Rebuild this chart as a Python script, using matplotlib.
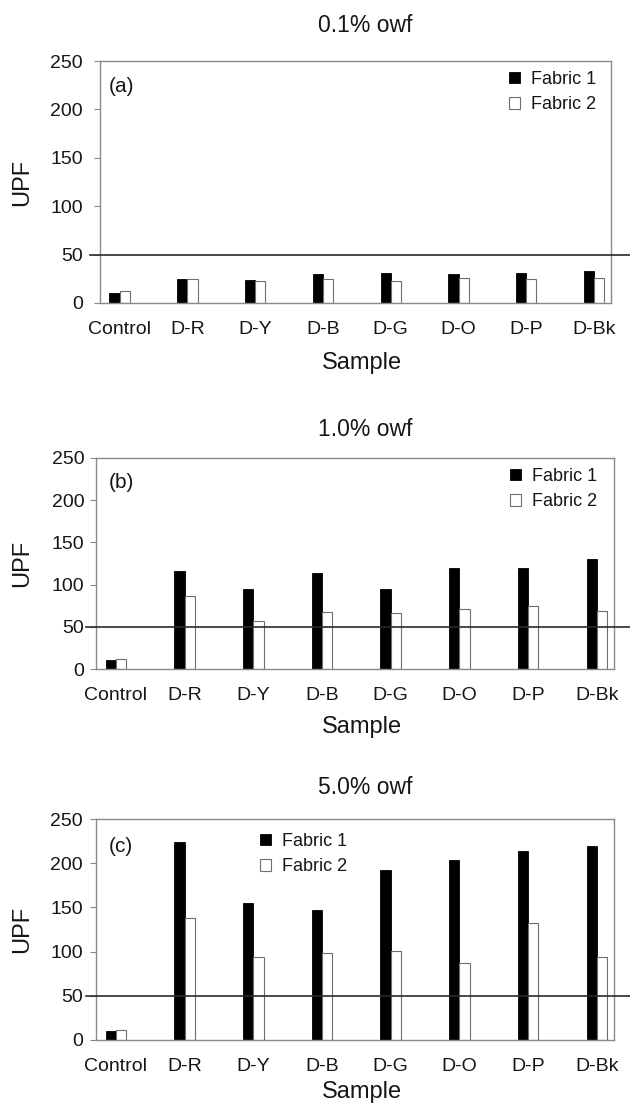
import numpy as np
import matplotlib
matplotlib.use('Agg')
import matplotlib.pyplot as plt
import matplotlib.transforms as mtransforms
from matplotlib.patches import Patch

plt.rcParams['font.family'] = ['Liberation Sans', 'DejaVu Sans']

samples = ['Control', 'D-R', 'D-Y', 'D-B', 'D-G', 'D-O', 'D-P', 'D-Bk']
panel_titles = ['0.1% owf', '1.0% owf', '5.0% owf']
panel_tags = ['(a)', '(b)', '(c)']
series_names = ['Fabric 1', 'Fabric 2']

fabric1_01 = [10.7, 25.2, 23.4, 29.7, 30.7, 29.7, 30.7, 32.8]
fabric2_01 = [12.0, 24.8, 22.8, 24.8, 22.4, 25.9, 24.8, 25.9]
fabric1_10 = [10.7, 116.5, 94.2, 113.7, 94.2, 119.3, 119.3, 130.8]
fabric2_10 = [12.3, 86.7, 56.5, 68.0, 66.4, 71.6, 75.1, 69.2]
fabric1_50 = [10.6, 224.2, 155.0, 146.7, 192.0, 203.4, 214.0, 219.7]
fabric2_50 = [11.7, 138.4, 93.8, 98.7, 100.2, 86.6, 132.0, 93.8]
upf_limit = 50

W, H = 630, 1106
fig = plt.figure(figsize=(W / 100, H / 100), dpi=100)


def fx(px):
    return px / W


def fy(py):
    return 1 - py / H


# pixel layout: axes box, title y, Sample y, tag y, legend anchor, ytick pad
layouts = [
    dict(box=(100, 611, 61, 303), title_y=25, xlabel_y=363, tag_y=87, leg=(509, 80), ypad=8),
    dict(box=(96, 614, 458, 669), title_y=430, xlabel_y=727, tag_y=483, leg=(510, 477), ypad=4),
    dict(box=(96, 614, 819, 1040), title_y=788, xlabel_y=1092, tag_y=847, leg=(260, 842), ypad=5),
]
data = [(fabric1_01, fabric2_01), (fabric1_10, fabric2_10), (fabric1_50, fabric2_50)]

text_color = '#161616'
frame_color = '#8a8a8a'
w = 0.15
x = np.arange(len(samples))

for lay, (f1, f2), title, tag in zip(layouts, data, panel_titles, panel_tags):
    l, r, t, b = lay['box']
    ax = fig.add_axes([fx(l), fy(b), fx(r - l), (b - t) / H])

    ax.bar(x, f1, width=w, align='edge', color='black', edgecolor='black', linewidth=0.6)
    ax.bar(x + w, f2, width=w, align='edge', color='white', edgecolor='#6e6e6e', linewidth=0.8)

    ax.set_xlim(-0.14, 7.40)
    ax.set_ylim(0, 250)
    ax.set_yticks(np.arange(0, 251, 50))
    ax.set_xticks(x + w)
    ax.set_xticklabels(samples)
    ax.tick_params(axis='x', length=0, pad=13, labelsize=14, labelcolor=text_color)
    ax.tick_params(axis='y', length=4.5, width=0.8, color=frame_color, pad=lay['ypad'],
                   labelsize=14, labelcolor=text_color)
    for s in ax.spines.values():
        s.set_color(frame_color)
        s.set_linewidth(1.0)

    # UPF 50 reference line, runs off to the right edge of the figure
    trans = mtransforms.blended_transform_factory(fig.transFigure, ax.transData)
    ax.plot([fx(l - 10), 1.0], [upf_limit, upf_limit], color='#2a2a2a', linewidth=1.2,
            transform=trans, clip_on=False, zorder=5)

    ax.set_ylabel('UPF', fontsize=17, color=text_color, va='center')
    ax.yaxis.set_label_coords((22 - l) / (r - l), 0.5)

    fig.text(fx(365), fy(lay['title_y']), title, ha='center', va='center',
             fontsize=16.5, color=text_color)
    fig.text(fx(362), fy(lay['xlabel_y']), 'Sample', ha='center', va='center',
             fontsize=17, color=text_color)
    fig.text(fx(109), fy(lay['tag_y']), tag, ha='left', va='center',
             fontsize=15, color=text_color)

    handles = [Patch(facecolor='black', edgecolor='black', linewidth=0.6),
               Patch(facecolor='white', edgecolor='#6e6e6e', linewidth=0.8)]
    lx, ly = lay['leg']
    ax.legend(handles, series_names, loc='upper left',
              bbox_to_anchor=(fx(lx), fy(ly - 9)), bbox_transform=fig.transFigure,
              frameon=False, fontsize=13, handlelength=0.62, handleheight=0.62,
              handletextpad=0.6, labelspacing=0.45, borderpad=0, borderaxespad=0,
              labelcolor=text_color)

fig.savefig('out.png', dpi=100)
